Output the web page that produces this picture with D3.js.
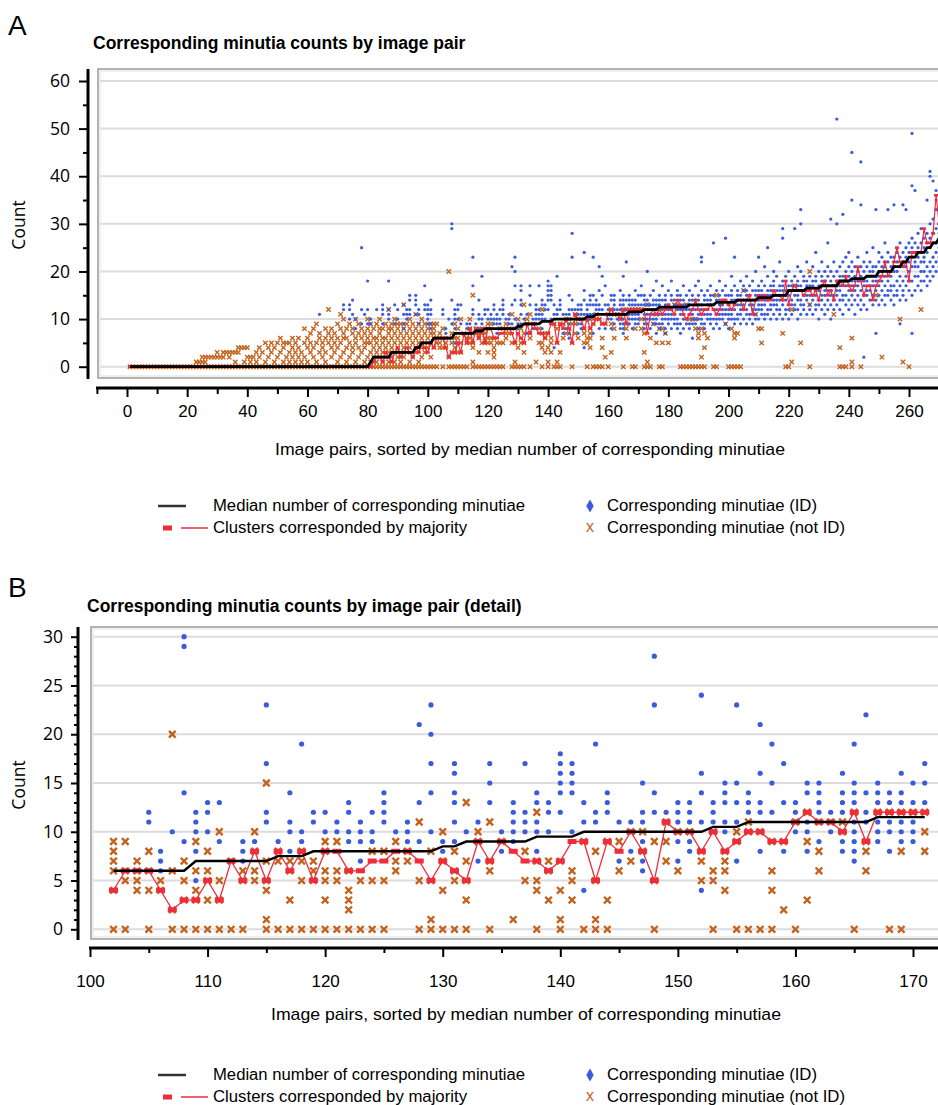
<!DOCTYPE html>
<meta charset="utf-8">
<head>
  <title>Corresponding minutia counts by image pair</title>
  <script src="https://d3js.org/d3.v7.min.js"></script>
  <style>
    body {
      margin: 0;
      background-color: white;
    }
    text {
      font-family: "Liberation Sans", Arial, sans-serif;
      fill: black;
    }
    .letter { font-size: 28px; }
    .title { font-size: 17.5px; font-weight: bold; }
    .ylab, .y text {
      font-family: "Open Sans", sans-serif;
      font-size: 17.5px;
    }
    .x text, .axtitle, .legend text {
      font-family: "Liberation Sans Narrow", "Liberation Sans", sans-serif;
      font-size: 17px;
    }
    .legend text { font-size: 16px; }
    .tick line { stroke: black; stroke-width: 2px; }
  </style>
</head>
<body>
<script>
  // one entry per image pair, pair 1 .. 270
  var medianA = [
    0,0,0,0,0,0,0,0,0,0, 0,0,0,0,0,0,0,0,0,0, 0,0,0,0,0,0,0,0,0,0, 0,0,0,0,0,0,0,0,0,0,
    0,0,0,0,0,0,0,0,0,0, 0,0,0,0,0,0,0,0,0,0, 0,0,0,0,0,0,0,0,0,0, 0,0,0,0,0,0,0,0,0,0,
    1,2,2,2,2,2,2,3,3,3, 3,3,3,3,3,4,4,5,5,5,
    5,6,6,6,6,6,6,6,7,7, 7,7,7,7,7,7.5,7.5,7.5,8,8,
    8,8,8,8,8,8,8,8,8,8.5, 8.5,9,9,9,9,9,9,9.5,9.5,9.5,
    9.5,10,10,10,10,10,10,10,10,10, 10,10,10.5,10.5,10.5,11,11,11,11,11,
    11,11,11,11,11,11,11.5,11.5,11.5,11.5, 11.5,12,12,12,12,12,12.5,12.5,12.5,12.5,
    12.5,12.5,12.5,12.5,12.5,12.5,13,13,13,13, 13,13,13,13,13,13.5,13.5,13.5,13.5,13.5,
    13.5,13.5,14,14,14,14,14,14,14,14.5, 14.5,14.5,14.5,14.5,15,15,15,15,15,16,
    16,16,16,16,16,16.5,16.5,16.5,16.5,16.5, 17,17,17,17,17,17,18,18,18,18,
    18.5,18.5,18.5,18.5,18.5,19,19,19,19,20, 20,20,20,20,21,21,21,22,22,23,
    23,23,24,24,24,25,25,26,26,27
  ];

  var majorityA = [
    0,0,0,0,0,0,0,0,0,0, 0,0,0,0,0,0,0,0,0,0, 0,0,0,0,0,0,0,0,0,0, 0,0,0,0,0,0,0,0,0,0,
    0,0,0,0,0,0,0,0,0,0, 0,0,0,0,0,0,0,0,0,0, 0,0,0,0,0,0,0,0,0,0, 0,0,0,0,0,0,0,0,0,0,
    0,1,2,2,1,3,2,1,3,4, 2,3,4,3,2,4,3,5,4,3,
    5,4,6,6,6,4,2,3,3,5, 3,7,5,8,5,8,6,8,5,8,
    8,6,6,7,7,8,8,7,5,7, 6,5,9,7,9,8,7,7,6,7,
    9,9,5,9,8,10,8,5,11,10, 10,8,10,8,9,10,10,9,9,11,
    12,11,11,10,12,9,12,12,12,12, 12,12,7,11,12,11,12,11,12,13,
    12,11,14,13,11,10,11,12,14,12, 11,12,12,13,12,11,12,14,14,13,
    12,13,14,14,12,14,15,11,14,15, 14,15,14,14,16,15,15,14,18,13,
    16,17,16,16,15,16,16,15,16,14, 17,18,15,16,14,18,18,17,19,17,
    16,17,21,18,15,17,17,14,17,18, 19,22,19,20,22,25,22,21,22,18,
    24,24,24,24,29,26,26,28,36,30
  ];

  var idA = [
    "","","","","","","","","","", "","","","","","","","","","",
    "","","","","","","","","","", "","","","","","","","","","",
    "","","","","","","","","","", "","","","","","","","","","",
    "","","","11","","","","","","",
    "","12 13","","13 12 10","14 11","10 8","","25 12 9","11","18 12 9",
    "10 9","","12","","13 12 11 9","","18 12 11 10","","9 13","10 12",
    "","13 11 9 8","12 11 10","15 14 12 11","","15 14 13 11","11 12 9","","17 13 12","13 12 11 10 9",
    "14 12 11 9 8","","","","12 11","8 7 6","10","30 29 14 9","12 11 10 8 5","13 12 10",
    "13 9","","9 8 7","9","23 17 12 11","9","14 11 10 8","19 10 9","12 11","12 10",
    "11 10","13 12 10 9","11 10 9 7","12 10 9","14 13 12 11","10","11 10 9","21 13 9","23 20 17 14 10","9 8",
    "17 16 14 13 11 9","10","11 7","17 15 13","10 8","13 12 11 10 9","17 12 11 10","14 13 11 10 8","13 12 10","18 17 16 15 14 12",
    "17 16 15 14 10","13 11 4","19 12 11","14 13 12","11 7","11 8","15 12 11 9 7 6","28 23 14 12","12 11","13 12 11 9 7",
    "13 12 11 9 8","24 16 14 11 4","13 12 11","15 14 13 11 10","23 15 13 11 7","14 13 12","21 16 13 12 8","19 15 12","17 13 8","13 12 10",
    "15 14 11 10 8","15 14 13 12 9","12 10","16 14 13 12 9 8","19 15 14 13 11 10 9 8 7","22 14 12 11","15 14 13 11 10 9","14 13 11 10 8","16 14 13 11 10 9","15 13 11 10 9",
    "17 15 13","8 9 10 11 13 14 15","9 10 11 12 13 14 20","8 10 11 12 13 15","9 10 11 13 14 16","7 9 10 12 13 14 18","8 9 11 12 13 14 15","9 10 11 12 14 17","7 8 10 11 13 14 15","9 10 11 12 13 16",
    "8 10 11 12 14 15 18","9 10 11 13 14","8 9 10 12 13 15 16","7 9 11 12 14 15","8 10 11 12 13 14 17","9 10 12 13 15","8 9 11 12 13 14 16","6 9 10 11 12 14 15","9 10 12 13 14 17","8 10 11 13 14 15 18",
    "9 10 11 12 13 16 22 23","8 9 11 12 14 15","10 11 12 13 14 16","9 10 11 13 14 15 17","8 10 12 13 15 26","9 10 11 12 14 16","8 10 11 13 14 15 18","10 11 12 13 14 16","9 11 12 14 15 17 27","8 10 11 12 13 15",
    "10 11 12 14 15 16 19","9 10 12 13 14 17 23","10 11 13 14 15 16","9 11 12 13 15 18","10 12 13 14 16 17","9 11 12 14 15 16 19","10 11 13 14 15 17","9 12 13 14 16 18","10 11 12 14 15 16 20","10 12 13 14 16 17 23",
    "11 12 13 15 16 18","10 11 13 14 15 17 21","11 12 14 15 16 19 25","10 12 13 15 16 17","11 13 14 15 17 18 20","10 12 13 14 16 19","11 12 14 15 16 17 22","10 13 14 16 17 18 27 29","11 12 14 15 16 19","10 12 13 15 16 17 20",
    "11 13 14 16 17 18","12 13 15 16 17 19 29","10 12 14 15 17 18 21","11 13 14 16 17 20 30 33","12 13 15 16 18 19","11 14 15 16 17 18 22","12 13 15 16 17 19","11 14 15 17 18 21","12 13 15 16 18 19 24","10 13 14 16 17 20",
    "12 14 15 17 18 19 22","11 13 15 16 18 20","12 14 16 17 19 21 26","10 13 15 16 18 20 31","12 14 15 17 19 22","13 15 16 18 20 30 52","12 14 16 17 19 21","11 14 15 18 19 22 32","13 15 17 18 20 23","12 14 16 17 19 21 24",
    "13 15 17 18 20 22 35 45","11 14 16 18 19 21","13 15 17 18 20 23","12 14 16 19 21 34 43","2 13 15 17 18 20 22","12 15 16 18 19 21 24","14 16 17 19 20 22","13 15 17 18 20 21 25","7 14 16 18 19 21 33","13 15 17 19 20 22 24",
    "14 16 18 20 21 23","13 15 17 19 21 22 26","15 16 18 20 22 24 33","14 16 17 19 21 23","13 15 17 20 21 23 34","15 16 18 20 22 24","9 14 17 19 21 23 26","15 16 18 21 22 24 34","14 17 19 21 23 25 33","16 18 20 22 24 26",
    "7 15 18 21 23 25 27 38 49","16 19 21 22 24 26 37","17 19 21 23 25 28","16 18 20 22 24 26 29","18 20 22 23 25 27","17 19 21 24 26 28 35","18 20 22 25 27 30 40 41","19 21 23 26 28 31 39","20 22 24 26 29 33 35 37","21 23 25 28 30 33"
  ];

  var notIdA = [
    "0","0","0","0","0","0","0","0","0","0", "0","0","0","0","0","0","0","0","0","0",
    "0","0","0 1","0 1","0 1 2","0 1 2","0 2","0 2","0 2","0 2 3",
    "0 2","0 2 3","0 3","0 2 3","0 3","0 1 3","0 3 4","0 4","0 1 4","0 2 4",
    "0 1 2","0 2","0 1 3","0 2 4","0 3","0 1 5","0 2 4","0 3 5","0 1 4","0 2 5",
    "0 3 6","0 1 4 5","0 2 5","0 1 3 5","0 2 4 6","0 1 3 5","0 2 4 6","0 1 3","0 2 5 8","0 1 4 6",
    "0 3 5 7","0 2 4 8","0 1 5 9","0 3 6 7","0 2 4 5","0 1 3 6 8","0 5 7 12","0 2 4 6 8","0 3 5 7","0 1 4 6 9",
    "0 2 5 8 11","0 3 6 7 10","0 1 4 6 8","0 2 5 9","0 3 4 7 8","0 1 5 6 10","0 2 4 7 9","0 3 6 8","0 1 4 5 7","0 2 5 6 8 10",
    "0 1 3 5 7 9","0 2 4 6 8","0 1 3 5 6 9","0 2 4 7 8 10","0 1 3 5 6 8","0 2 4 6 9","0 1 3 5 7 8 12","0 2 4 6 8 9","0 1 3 5 7 10","0 2 4 6 8 9",
    "0 1 3 5 7 9","0 2 4 6 8 13","0 3 5 7 9","0 1 4 6 8 10","0 2 5 7 9","0 3 4 6 8 11","0 1 5 7 9","0 2 4 6 8 10","0 3 5 7 9","0 4 6 8",
    "0 2 5 7 9","9 8 7 6 4 0","9 6 5 0","7 6 5 4","8 6 4 0","5 4","20 6 2 0","7 5 3 0","9 6 4 3 0","8 6 5 3 0",
    "10 5 3 0","7 0","6 5 0","10 8 6 5","15 7 5 4 1 0","8 7 0","7 6 3 0","8 7 5 0","7 6 5 0","9 8 6 5 3 0",
    "9 6 5 0","6 4 3 2 0","5 0","8 5 0","8 5 0","9 7 6","8 7","11 5 0","8 5 1 0","10 7 4 0",
    "8 6 5 0","13 7 5 3 0","10 9","11 7 6 0","9","1","8 5","12 7 5 4 0","7 6 3","7 4 1 0",
    "6 5 3","9 0","8 5 1 0","9 3 0","9 6","10 7","10 8","9 5 0","11 9 7","10 6",
    "10","8 7 5","10 6 5 0","8 7 6 4","10 9 0","11 10 0","10 0","9 6 4 0","9 2","11 0",
    "12 9 3","11 8 6","11","11 10","12 0","9 8 6","12","12 0","12 8 0","12",
    "12 10 8","7 3 0","13 1 0","6 0","9","11 5","8 0","8 5 0","7","5",
    "","13","","0","0","13 0","10 0","10 0","10 8 0","7 6 0",
    "8 2 0","7 4 0","6","","0","15 0","","","9","0",
    "8 0","7 6 0","7 0","0","16","","","","11","8",
    "8 5","","","","","","","7","0","0",
    "12 1","17","","5","","","20 13 0","","","",
    "","","","","11","","4 0","0","0","",
    "6 1 0","","","0","","","","","15","",
    "2","","","","","","10","1","","0",
    "","","","12","","","","","",""
  ];

  var firstPair = 1;
  var detailRange = [102, 171];

  var xLabelsA = [0, 20, 40, 60, 80, 100, 120, 140, 160, 180, 200, 220, 240, 260];
  var xMinorA = [-10, 10, 30, 50, 70, 90, 110, 130, 150, 170, 190, 210, 230, 250, 270];
  var yLabelsA = [0, 10, 20, 30, 40, 50, 60];
  var yMinorA = [5, 15, 25, 35, 45, 55];
  var xLabelsB = [100, 110, 120, 130, 140, 150, 160, 170];
  var xMinorB = [105, 115, 125, 135, 145, 155, 165];
  var yLabelsB = [0, 5, 10, 15, 20, 25, 30];
  var yMinorB = d3.range(1, 30).filter(function(v) { return v % 5 !== 0; });

  var titleA = "Corresponding minutia counts by image pair";
  var titleB = "Corresponding minutia counts by image pair (detail)";
  var xTitle = "Image pairs, sorted by median number of corresponding minutiae";
  var yTitle = "Count";
  var legendLabels = ["Median number of corresponding minutiae", "Clusters corresponded by majority",
                      "Corresponding minutiae (ID)", "Corresponding minutiae (not ID)"];

  var blue = "#3a5cdb", orange = "#c4621d", red = "#ef2b3c";
  var width = 938, height = 1105;

  function parseVals(s) {
    return s.trim() === "" ? [] : s.trim().split(/\s+/).map(Number);
  }

  var rows = medianA.map(function(m, i) {
    return { pair: firstPair + i, median: m, majority: majorityA[i],
             id: parseVals(idA[i]), notId: parseVals(notIdA[i]) };
  });

  var svg = d3.select("body").append("svg")
    .attr("width", width)
    .attr("height", height);

  function drawPanel(o) {
    var data = rows.filter(function(d) { return d.pair >= o.pairs[0] && d.pair <= o.pairs[1]; });
    var x = d3.scaleLinear().domain(o.xDomain).range(o.xRange);
    var y = d3.scaleLinear().domain(o.yDomain).range(o.yRange);
    var g = svg.append("g");

    g.append("text").attr("class", "letter").attr("x", 8).attr("y", o.letterY).text(o.letter);
    g.append("text").attr("class", "title").attr("x", o.titleX).attr("y", o.titleY).text(o.title);

    // frame + grid
    g.append("g").selectAll("line")
      .data(o.yLabels)
      .enter().append("line")
      .attr("x1", o.frame[0] + 2).attr("x2", width)
      .attr("y1", function(d) { return y(d); })
      .attr("y2", function(d) { return y(d); })
      .attr("stroke", "#dcdcdc").attr("stroke-width", 2);
    g.append("rect")
      .attr("x", o.frame[0]).attr("y", o.frame[1])
      .attr("width", width + 40 - o.frame[0]).attr("height", o.frame[2] - o.frame[1])
      .attr("fill", "none").attr("stroke", "#a0a0a0").attr("stroke-width", 1.6);
    g.append("rect")
      .attr("x", o.frame[0] + 2).attr("y", o.frame[1] + 2)
      .attr("width", width + 40 - o.frame[0]).attr("height", o.frame[2] - o.frame[1] - 4)
      .attr("fill", "none").attr("stroke", "#e4e4e4").attr("stroke-width", 1.2);

    // y axis
    var gy = g.append("g").attr("class", "y axis").attr("transform", "translate(" + o.yAxisX + ",0)");
    gy.append("g").call(d3.axisLeft(y).tickValues(o.yMinor).tickSize(o.yMinorLen).tickFormat(""));
    gy.append("g").call(d3.axisLeft(y).tickValues(o.yLabels).tickSize(o.yMajorLen).tickPadding(o.yPad));
    gy.selectAll(".domain").remove();
    gy.append("line").attr("y1", o.frame[1]).attr("y2", o.frame[2] + 1)
      .attr("stroke", "black").attr("stroke-width", 3);

    // x axis
    var gx = g.append("g").attr("class", "x axis").attr("transform", "translate(0," + o.xAxisY + ")");
    gx.append("g").call(d3.axisBottom(x).tickValues(o.xMinor).tickSize(o.xMinorLen).tickFormat(""));
    gx.append("g").call(d3.axisBottom(x).tickValues(o.xLabels).tickSize(9).tickPadding(o.xPad));
    gx.selectAll(".domain").remove();
    gx.append("line").attr("x1", o.xAxisStart - 1).attr("x2", width)
      .attr("stroke", "black").attr("stroke-width", 3);

    g.append("text").attr("class", "axtitle")
      .attr("x", o.xTitleX).attr("y", o.xTitleY)
      .attr("text-anchor", "middle")
      .attr("textLength", 510).attr("lengthAdjust", "spacingAndGlyphs")
      .text(xTitle);
    g.append("text").attr("class", "ylab")
      .attr("transform", "translate(25," + o.yTitleY + ") rotate(-90)")
      .attr("text-anchor", "middle")
      .text(yTitle);

    // marks
    svg.append("clipPath").attr("id", "clip" + o.letter)
      .append("rect")
      .attr("x", o.frame[0] + 1).attr("y", o.frame[1] + 1)
      .attr("width", width).attr("height", o.frame[2] - o.frame[1] - 2);
    var plot = g.append("g").attr("clip-path", "url(#clip" + o.letter + ")");

    var notId = [], ids = [];
    data.forEach(function(d) {
      d.notId.forEach(function(v) { notId.push({ pair: d.pair, v: v }); });
      d.id.forEach(function(v) { ids.push({ pair: d.pair, v: v }); });
    });

    var s = o.cross;
    plot.selectAll(".nid")
      .data(notId)
      .enter().append("path")
      .attr("class", "nid")
      .attr("d", "M" + (-s) + "," + (-s) + "L" + s + "," + s + "M" + (-s) + "," + s + "L" + s + "," + (-s))
      .attr("transform", function(d) { return "translate(" + x(d.pair) + "," + y(d.v) + ")"; })
      .attr("stroke", orange).attr("stroke-width", o.crossW).attr("fill", "none");

    plot.selectAll(".id")
      .data(ids)
      .enter().append("circle")
      .attr("class", "id")
      .attr("cx", function(d) { return x(d.pair); })
      .attr("cy", function(d) { return y(d.v); })
      .attr("r", o.dot)
      .attr("fill", blue);

    plot.append("path").datum(data)
      .attr("d", d3.line().x(function(d) { return x(d.pair); }).y(function(d) { return y(d.majority); }))
      .attr("fill", "none").attr("stroke", red).attr("stroke-width", o.redW);

    plot.selectAll(".maj")
      .data(data)
      .enter().append("rect")
      .attr("class", "maj")
      .attr("x", function(d) { return x(d.pair) - o.sq[0] / 2; })
      .attr("y", function(d) { return y(d.majority) - o.sq[1] / 2; })
      .attr("width", o.sq[0]).attr("height", o.sq[1])
      .attr("fill", red);

    plot.append("path").datum(data)
      .attr("d", d3.line().x(function(d) { return x(d.pair); }).y(function(d) { return y(d.median); }))
      .attr("fill", "none").attr("stroke", "black").attr("stroke-width", o.medW);

    drawLegend(o.legendY);
  }

  function drawLegend(r1) {
    var r2 = r1 + 22;
    var lg = svg.append("g").attr("class", "legend");
    lg.append("line").attr("x1", 158).attr("x2", 186).attr("y1", r1).attr("y2", r1)
      .attr("stroke", "#333").attr("stroke-width", 2.5);
    lg.append("rect").attr("x", 163).attr("y", r2 - 2.5).attr("width", 9).attr("height", 5).attr("fill", red);
    lg.append("line").attr("x1", 181).attr("x2", 208).attr("y1", r2).attr("y2", r2)
      .attr("stroke", red).attr("stroke-width", 1.5);
    lg.append("path").attr("d", d3.symbol(d3.symbolDiamond, 48)())
      .attr("transform", "translate(590," + r1 + ")").attr("fill", blue);
    lg.append("text").attr("x", 590).attr("y", r2 + 4).attr("text-anchor", "middle")
      .style("fill", orange).text("x");

    var spots = [[213, r1, 312], [213, r2, 254], [607, r1, 210], [607, r2, 238]];
    lg.selectAll(".lt")
      .data(legendLabels)
      .enter().append("text")
      .attr("class", "lt")
      .attr("x", function(d, i) { return spots[i][0]; })
      .attr("y", function(d, i) { return spots[i][1] + 5; })
      .attr("textLength", function(d, i) { return spots[i][2]; })
      .attr("lengthAdjust", "spacingAndGlyphs")
      .text(function(d) { return d; });
  }

  drawPanel({
    letter: "A", letterY: 35, title: titleA, titleX: 93, titleY: 49,
    pairs: [firstPair, firstPair + medianA.length - 1],
    xDomain: [0, 260], xRange: [127, 909], yDomain: [0, 60], yRange: [366.7, 81],
    frame: [98, 69, 378], yAxisX: 88, xAxisY: 388, xAxisStart: 97,
    xLabels: xLabelsA, xMinor: xMinorA, xMinorLen: 6, xPad: 8,
    yLabels: yLabelsA, yMinor: yMinorA, yMajorLen: 9, yMinorLen: 5, yPad: 9,
    xTitleX: 530, xTitleY: 455, yTitleY: 225, legendY: 506,
    cross: 2.2, crossW: 1.4, dot: 1.6, sq: [4, 2.6], redW: 1.2, medW: 2.8
  });

  drawPanel({
    letter: "B", letterY: 597, title: titleB, titleX: 87, titleY: 612,
    pairs: detailRange,
    xDomain: [100, 170], xRange: [90, 913], yDomain: [0, 30], yRange: [929.3, 636.7],
    frame: [91, 627, 939], yAxisX: 78, xAxisY: 948, xAxisStart: 90,
    xLabels: xLabelsB, xMinor: xMinorB, xMinorLen: 5, xPad: 18,
    yLabels: yLabelsB, yMinor: yMinorB, yMajorLen: 7, yMinorLen: 4, yPad: 8,
    xTitleX: 526, xTitleY: 1020, yTitleY: 785, legendY: 1075,
    cross: 3.3, crossW: 2.4, dot: 2.6, sq: [9, 5], redW: 1.3, medW: 2.4
  });
</script>
</body>
</html>
